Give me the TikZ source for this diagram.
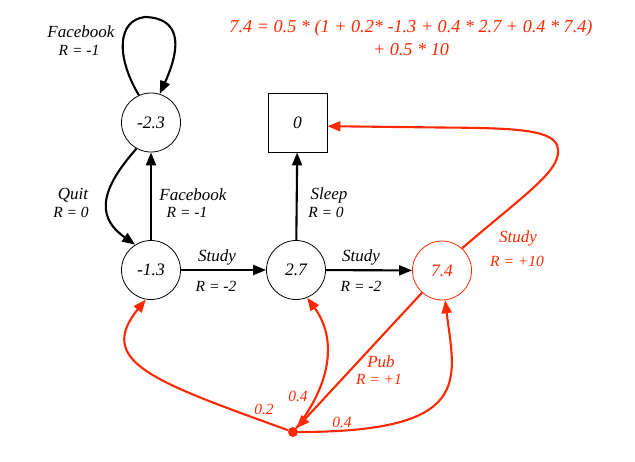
\documentclass[tikz,border=0pt]{standalone}
\usepackage{fontspec}
\setmainfont{Liberation Serif}
\usetikzlibrary{arrows.meta}
\definecolor{myred}{RGB}{255,40,0}
\begin{document}
\begin{tikzpicture}[x=1pt,y=-1pt,
  state/.style={circle,draw,line width=0.8pt,minimum size=59pt,inner sep=0pt,font=\fontsize{17.5}{20}\selectfont\itshape},
  term/.style={rectangle,draw,line width=0.8pt,minimum size=59pt,inner sep=0pt,font=\fontsize{17.5}{20}\selectfont\itshape},
  edge/.style={line width=2.1pt,-{Triangle[length=13pt,width=10pt]}},
  redge/.style={edge,draw=myred},
  lbl/.style={font=\fontsize{17}{20}\selectfont\itshape,inner sep=0pt},
  eqlbl/.style={font=\fontsize{18.2}{20}\selectfont\itshape,inner sep=0pt,text=myred},
  rlbl/.style={font=\fontsize{15.5}{18}\selectfont\itshape,inner sep=0pt},
]
\useasboundingbox (0,0) rectangle (635,461);
% states
\node[state] (n23) at (151,122.5) {-2.3};
\node[state] (n13) at (151,270) {-1.3};
\node[state] (n27) at (296,270) {2.7};
\node[state,draw=myred,text=myred] (n74) at (442,270.5) {7.4};
\node[term] (n0) at (297.5,122.5) {0};
\node[circle,fill=myred,minimum size=10pt,inner sep=0pt] (dot) at (293,432) {};
% equation
\node[eqlbl] (eq1) at (411,28) {7.4 = 0.5 * (1 + 0.2* -1.3 + 0.4 * 2.7 + 0.4 * 7.4)};
\node[eqlbl] (eq2) at (411,50) {+ 0.5 * 10};
% black edges
\draw[edge] (n23.114) .. controls (115,55) and (118,20) .. (145,17) .. controls (180,18) and (182,45) .. (n23.73);
\draw[edge] (n23.241) .. controls (95,195) and (100,220) .. (n13.122);
\draw[edge] (n13) -- (n23);
\draw[edge] (n27) -- (n0);
\draw[edge] (n13) -- (n27);
\draw[edge] (n27) -- (n74);
% red edges
\draw[redge] (n74.48) .. controls (530,190) and (565,168) .. (557,145) .. controls (550,129) and (510,128) .. (440,127.5) -- (n0.-7);
\draw[redge] (n74.-132) -- (dot);
\draw[redge] (dot) .. controls (155,382) and (95,362) .. (n13.-100);
\draw[redge] (dot) .. controls (330,385) and (338,340) .. (n27.-68);
\draw[redge] (dot) .. controls (475,432) and (455,380) .. (n74.-84);
% labels
\node[lbl] (l1) at (81,32) {Facebook};
\node[rlbl] (l1r) at (79,50) {R = -1};
\node[lbl] (l2) at (73,195) {Quit};
\node[rlbl] (l2r) at (71,212) {R = 0};
\node[lbl] (l3) at (193,195) {Facebook};
\node[rlbl] (l3r) at (187,212) {R = -1};
\node[lbl] (l4) at (329,195) {Sleep};
\node[rlbl] (l4r) at (326,212) {R = 0};
\node[lbl] (l5) at (217,257) {Study};
\node[rlbl] (l5r) at (216,286) {R = -2};
\node[lbl] (l6) at (361,257) {Study};
\node[rlbl] (l6r) at (361,286) {R = -2};
\node[lbl,text=myred] (l7) at (518,238) {Study};
\node[rlbl,text=myred] (l7r) at (517,261) {R = +10};
\node[lbl,text=myred] (l8) at (381,362) {Pub};
\node[rlbl,text=myred] (l8r) at (379,379) {R = +1};
\node[rlbl,text=myred] (p1) at (264,409) {0.2};
\node[rlbl,text=myred] (p2) at (298,396) {0.4};
\node[rlbl,text=myred] (p3) at (342,422) {0.4};
\end{tikzpicture}
\end{document}
